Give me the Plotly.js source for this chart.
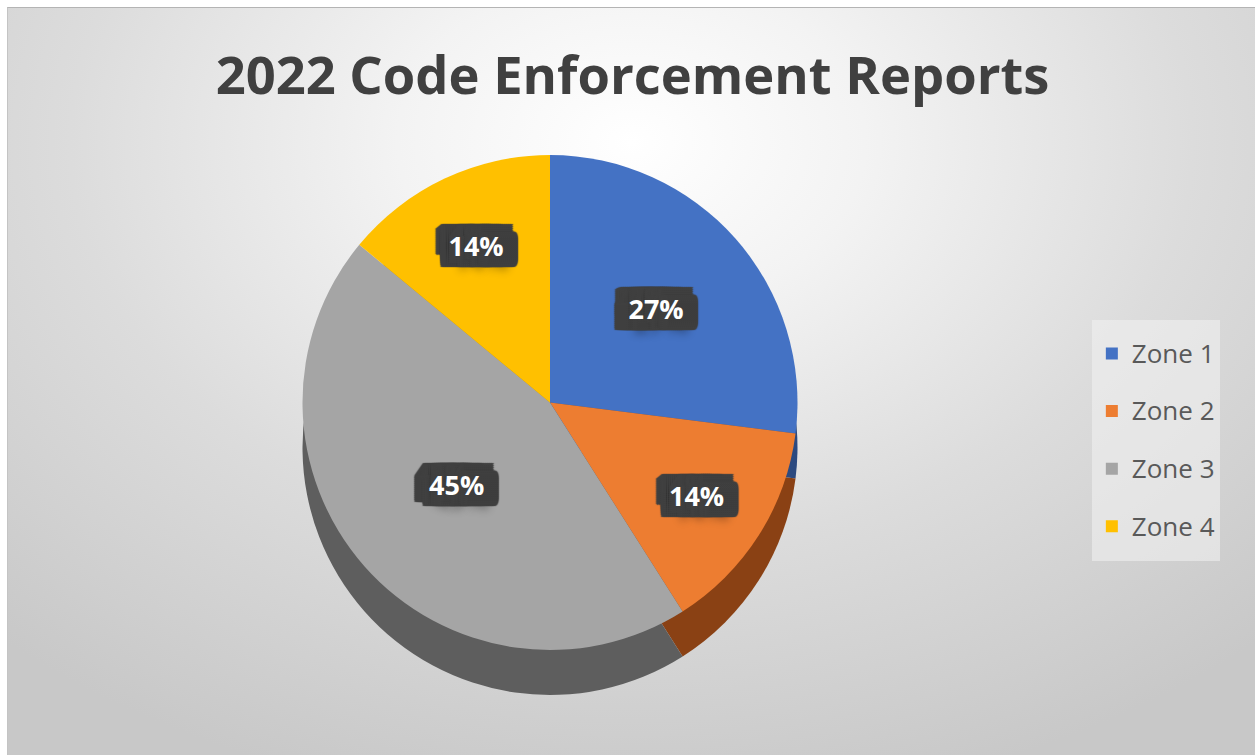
<!DOCTYPE html>
<html>
<head>
<meta charset="utf-8">
<script src="https://cdn.plot.ly/plotly-3.0.1.min.js"></script>
<style>
  html, body { margin: 0; padding: 0; background: #ffffff; width: 1255px; height: 755px; overflow: hidden; }
  #bg { position: absolute; left: 7px; top: 7px; width: 1248px; height: 748px;
        border-top: 1px solid #b4b4b4; border-left: 1px solid #c4c4c4; box-sizing: border-box;
        background: radial-gradient(ellipse 75% 90% at 50% 18%, #ffffff 0%, #f3f3f3 25%, #dcdcdc 60%, #c8c8c8 100%); }
  #chart { position: absolute; left: 0; top: 0; width: 1255px; height: 755px; }
</style>
</head>
<body>
<div id="bg"></div>
<div id="chart"></div>
<script>
const categories = ["Zone 1", "Zone 2", "Zone 3", "Zone 4"];
const values = [27, 14, 45, 14];
const topColors = ["#4472C4", "#ED7D31", "#A5A5A5", "#FFC000"];
const sideColors = ["#2c4a80", "#8A4114", "#5E5E5E", "#BF9000"];
const chartTitle = "2022 Code Enforcement Reports";

const W = 1255, H = 755;
function dom(x0, x1, yTop, yBot) {
  return { x: [x0 / W, x1 / W], y: [1 - yBot / H, 1 - yTop / H] };
}

// dark "box" behind each percentage label, built from stacked text shadows
const boxShadow = (function () {
  const parts = [];
  for (let dx = -15; dx <= 15; dx += 2) {
    for (let dy = -13; dy <= 11; dy += 2) {
      parts.push(dx + "px " + dy + "px 1px #404040");
    }
  }
  parts.push("5px 14px 8px rgba(0,0,0,0.45)");
  return parts.join(", ");
})();

const sideTrace = {
  type: "pie", labels: categories, values: values, sort: false,
  direction: "clockwise", rotation: 0,
  marker: { colors: sideColors, line: { width: 0 } },
  textinfo: "none", hoverinfo: "skip", showlegend: false,
  domain: dom(302, 798, 200, 695)
};
const faceTrace = {
  type: "pie",
  labels: categories.map(c => '<span style="font-size:26px;baseline-shift:7px">' + c + '</span>'),
  values: values, sort: false,
  direction: "clockwise", rotation: 0,
  marker: { colors: topColors, line: { width: 0 } },
  textinfo: "percent", textposition: "inside", insidetextorientation: "horizontal",
  texttemplate: "%{percent:.0%}",
  insidetextfont: { family: "Open Sans, sans-serif", size: 27, color: "#ffffff", weight: 700,
                    shadow: boxShadow },
  domain: dom(302, 798, 155, 650)
};

const layout = {
  width: W, height: H,
  margin: { l: 0, r: 0, t: 0, b: 0 },
  paper_bgcolor: "rgba(0,0,0,0)", plot_bgcolor: "rgba(0,0,0,0)",
  title: { text: chartTitle, x: 0.504, xanchor: "center", y: 0.90, yanchor: "middle", yref: "paper",
           font: { family: "Open Sans, sans-serif", size: 52.5, color: "#404040", weight: 700 } },
  legend: { x: 0.870, xanchor: "left", y: 0.417, yanchor: "middle",
            bgcolor: "rgba(240,240,240,0.6)", borderwidth: 0,
            font: { family: "Open Sans, sans-serif", size: 42, color: "#595959" },
            itemwidth: 30 },
  showlegend: true
};

Plotly.newPlot("chart", [sideTrace, faceTrace], layout, { displayModeBar: false, staticPlot: true });
</script>
</body>
</html>
